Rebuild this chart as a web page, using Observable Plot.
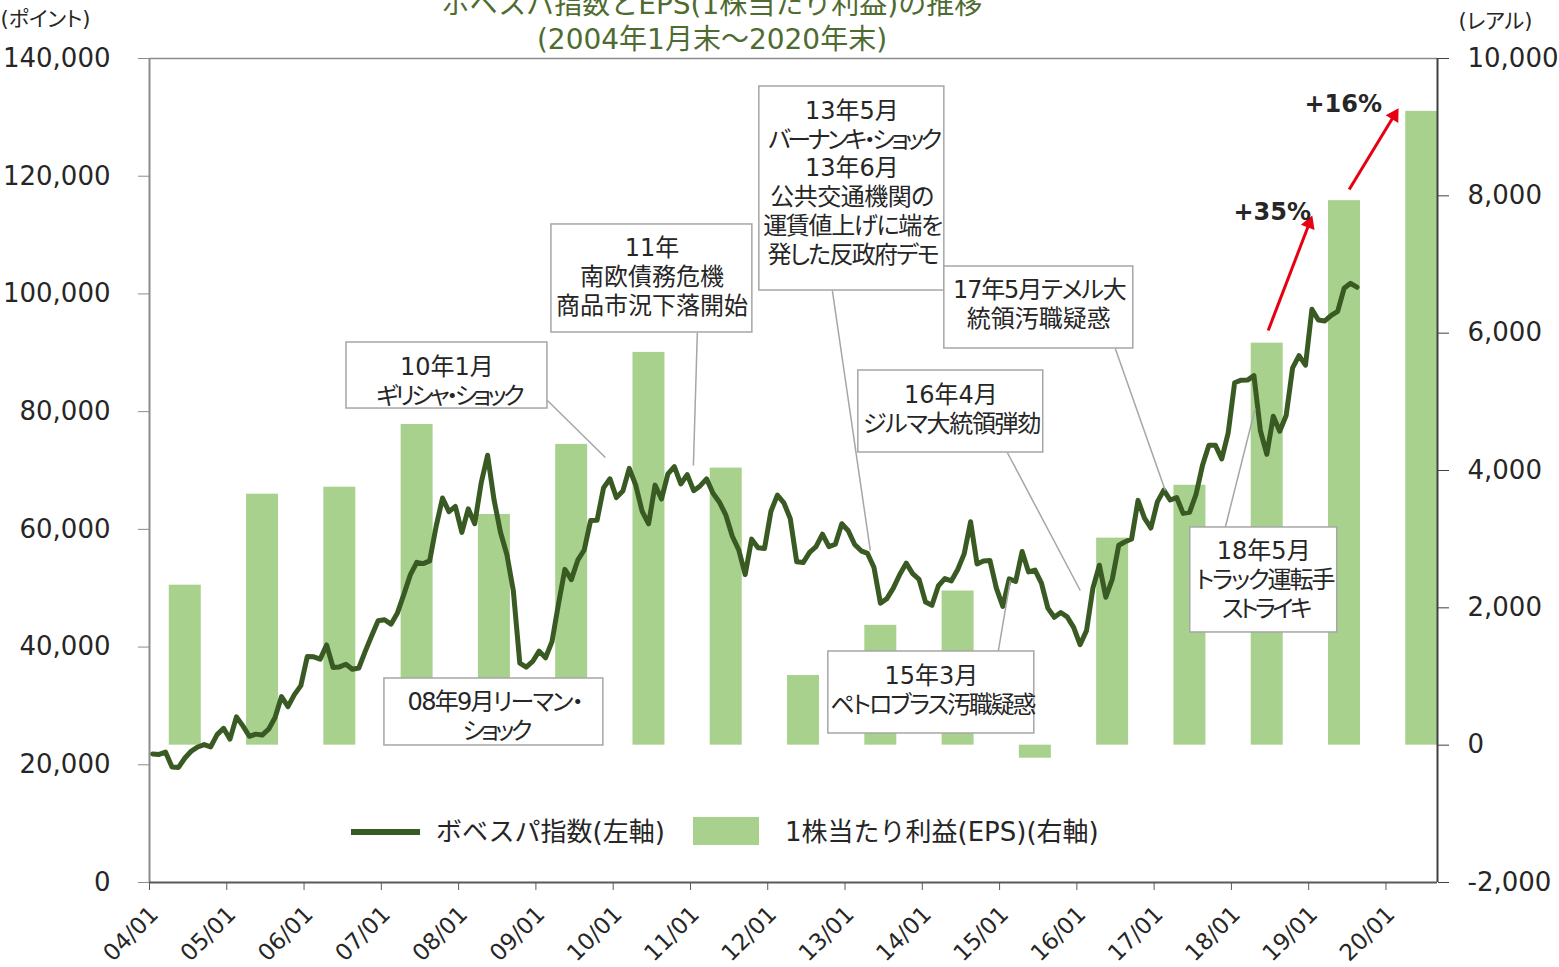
<!DOCTYPE html>
<html><head><meta charset="utf-8">
<script src="https://cdn.jsdelivr.net/npm/d3@7"></script>
<script src="https://cdn.jsdelivr.net/npm/@observablehq/plot@0.6"></script>
<style>
body{margin:0;background:#fff;}
#wrap{position:relative;width:1559px;height:967px;overflow:hidden;font-family:'DejaVu Sans','Noto Sans CJK JP',sans-serif;color:#262626;}
#wrap svg{display:block;position:absolute;left:0;top:0;}
#wrap svg text{font-feature-settings:"palt";}
.t{position:absolute;white-space:nowrap;line-height:1;}
.title{left:0;width:1424px;text-align:center;color:#4e6b30;font-size:28px;}
</style></head>
<body><div id="wrap"></div>
<script>
// ---- data ----
const epsYears = [2004,2005,2006,2007,2008,2009,2010,2011,2012,2013,2014,2015,2016,2017,2018,2019,2020];
const eps = [2330,3655,3757,4670,3360,4380,5720,4035,1015,1745,2245,-190,3015,3785,5855,7930,9230];
const bovespaStart = 2004; // Jan 2004, monthly
const bovespa = [
 21851,21755,22142,19607,19545,21149,22337,23025,23440,23052,25128,26196,
 24351,28139,26610,24843,25207,25051,26042,28043,31583,29878,31916,33455,
 38382,38346,37951,40365,36530,36631,37077,36232,36449,39262,41931,44473,
 44641,43892,45804,48956,52268,54392,54182,54637,60465,65317,63006,63886,
 59490,63489,60968,67868,72593,65017,59505,55680,49541,37257,36595,37550,
 39301,38183,40926,47290,53198,51465,54766,56489,61518,61546,67044,68588,
 65402,66504,70372,67530,63046,60936,67515,65145,69430,70673,67705,69305,
 66575,67383,68587,66133,64620,62404,58823,56495,52324,58338,56875,56754,
 63072,65812,64511,61820,54490,54355,56097,57061,59175,57068,57475,60952,
 59761,57424,56352,55910,53506,47457,48234,50008,52338,54256,52482,51507,
 47639,47094,50415,51627,51239,53168,55829,61288,54116,54629,54724,50007,
 46908,51583,51150,56229,52760,53081,50865,46626,45059,45868,45120,43350,
 40406,42794,50055,53911,48472,51527,57308,57901,58367,64925,61906,60227,
 64671,66662,64984,65403,62711,62900,65920,70835,74294,74308,71971,76402,
 84913,85353,85365,86115,76753,72762,79220,76677,79342,87423,89504,87887,
 97394,95584,95415,96353,97030,100967,101812,101135
];
const xTickYears = [2004,2005,2006,2007,2008,2009,2010,2011,2012,2013,2014,2015,2016,2017,2018,2019,2020];
const xTickLabels = ["04/01","05/01","06/01","07/01","08/01","09/01","10/01","11/01","12/01","13/01","14/01","15/01","16/01","17/01","18/01","19/01","20/01"];
const leftTicks = [0,20000,40000,60000,80000,100000,120000,140000];
const rightTicks = [-2000,0,2000,4000,6000,8000,10000];
const titleLines = ["ボベスパ指数とEPS(1株当たり利益)の推移","(2004年1月末～2020年末)"];
const leftUnit = "(ポイント)";
const rightUnit = "(レアル)";
const legendLine = "ボベスパ指数(左軸)";
const legendBar = "1株当たり利益(EPS)(右軸)";
// annotations: text, text anchor (year, points), box extent, leader line
const annText = [
 "10年1月\nギリシャ・ショック",
 "11年\n南欧債務危機\n商品市況下落開始",
 "13年5月\nバーナンキ・ショック\n13年6月\n公共交通機関の\n運賃値上げに端を\n発した反政府デモ",
 "17年5月テメル大\n統領汚職疑惑",
 "16年4月\nジルマ大統領弾劾",
 "08年9月リーマン・\nショック",
 "15年3月\nペトロブラス汚職疑惑",
 "18年5月\nトラック運転手\nストライキ"
];
const annAt = [[2007.849,85300],[2010.501,103130],[2013.088,119100],[2015.507,98370],[2014.369,80620],[2008.457,28370],[2014.117,32880],[2018.418,51570]];
const annBox = [
 [2006.549,2009.149,91750,80530],
 [2009.201,2011.801,111800,93450],
 [2011.891,2014.285,135240,100580],
 [2014.285,2016.730,104660,90730],
 [2013.172,2015.565,86990,73060],
 [2007.040,2009.873,34660,23280],
 [2012.784,2015.449,39250,25320],
 [2017.467,2019.369,60320,42480]
];
const leaders = [
 [2009.149,81900,2009.899,72210],
 [2011.089,93450,2011.038,70850],
 [2012.836,100580,2013.327,56410],
 [2016.497,90730,2017.144,66600],
 [2015.100,73060,2016.044,49610],
 [2014.983,39250,2015.138,51310],
 [2017.920,60320,2018.308,80530]
];
const growthText = ["+35%","+16%"];
const growthAt = [[2018.528,113840],[2019.447,132180]];
const growthArrow = [[2018.476,93790,2019.007,111970],[2019.524,117740,2020.106,130320]];

// ---- derived tables ----
const K = 140000/12000;            // right axis (reais) -> left axis (points)
const toLeft = v => (v + 2000) * K;
const xMax = 2004 + 200/12;
const pxPerYear = 1288/(xMax-2004), pxPerPt = 824/140000;
const lineData = bovespa.map((v,i) => ({x: bovespaStart + (i + 0.5)/12, y: v}));
const barData = epsYears.map((yr,i) => ({x1: yr + 0.256, x2: yr + 0.670, y1: toLeft(0), y2: toLeft(eps[i])}));
const ann = annText.map((t,i) => ({t, x: annAt[i][0], y: annAt[i][1], x1: annBox[i][0], x2: annBox[i][1], y1: annBox[i][2], y2: annBox[i][3]}));
const lead = leaders.map(d => ({x1:d[0],y1:d[1],x2:d[2],y2:d[3]}));
const grow = growthText.map((t,i) => {
  const [x1,y1,x2,y2] = growthArrow[i];
  const ang = Math.atan2((x2-x1)*pxPerYear, (y2-y1)*pxPerPt) * 180/Math.PI;
  return {t, x: growthAt[i][0], y: growthAt[i][1], x1, y1, x2, y2, ang};
});
const fam = "'DejaVu Sans','Noto Sans CJK JP',sans-serif";

const chart = Plot.plot({
  width: 1559, height: 967,
  marginLeft: 149, marginRight: 122, marginTop: 58, marginBottom: 85,
  x: {domain: [2004, xMax]},
  y: {domain: [0, 140000]},
  style: {fontFamily: fam, fontSize: "24px", color: "#262626", background: "transparent", overflow: "visible"},
  marks: [
    Plot.rect(barData, {x1: "x1", x2: "x2", y1: "y1", y2: "y2", fill: "#a9d18e"}),
    Plot.ruleY([140000], {stroke: "#8c8c8c", strokeWidth: 1.5}),
    Plot.ruleX([2004], {stroke: "#8c8c8c", strokeWidth: 2}),
    Plot.ruleX([xMax], {stroke: "#404040", strokeWidth: 2}),
    Plot.ruleY([0], {stroke: "#595959", strokeWidth: 2}),
    Plot.axisY(leftTicks, {anchor: "left", tickSize: 11, tickPadding: 28, stroke: "#8c8c8c", fill: "#262626", fontSize: 26, tickFormat: d3.format(","), label: null}),
    Plot.axisY(rightTicks.map(toLeft), {anchor: "right", tickSize: 11, tickPadding: 19, stroke: "#404040", fill: "#262626", fontSize: 26,
      tickFormat: v => d3.format(",")(Math.round(v/K - 2000)).replace("−","-"), label: null}),
    Plot.axisX(xTickYears, {anchor: "bottom", tickSize: 8, stroke: "#595959", tickFormat: () => "", label: null}),
    Plot.text(xTickYears, {x: d => d, text: (d,i) => xTickLabels[i], frameAnchor: "bottom", rotate: -45, textAnchor: "end", lineAnchor: "middle", dx: 5, dy: 28, fontSize: 23, fill: "#262626"}),
    Plot.line(lineData, {x: "x", y: "y", stroke: "#3a5a24", strokeWidth: 5, strokeLinejoin: "round", strokeLinecap: "round"}),
    Plot.link(lead, {x1: "x1", y1: "y1", x2: "x2", y2: "y2", stroke: "#a6a6a6", strokeWidth: 1.5}),
    Plot.rect(ann, {x1: "x1", x2: "x2", y1: "y1", y2: "y2", fill: "white", stroke: "#a6a6a6", strokeWidth: 1.5}),
    Plot.text(ann, {x: "x", y: "y", text: "t", fontSize: 24, lineHeight: 1.2, fill: "#262626", ariaLabel: "annotation"}),
    Plot.link(grow, {x1: "x1", y1: "y1", x2: "x2", y2: "y2", stroke: "#e60012", strokeWidth: 3}),
    Plot.dot(grow, {x: "x2", y: "y2", symbol: "triangle2", r: 7, fill: "#e60012", rotate: "ang"}),
    Plot.text(grow, {x: "x", y: "y", text: "t", fontSize: 24, fontWeight: "bold", fill: "#262626"}),
    Plot.text([leftUnit], {text: d => d, frameAnchor: "top-left", dx: -149, dy: -47, textAnchor: "start", fontSize: 21, fill: "#262626"}),
    Plot.text([rightUnit], {text: d => d, frameAnchor: "top-right", dx: 21, dy: -45, textAnchor: "start", fontSize: 21, fill: "#262626"})
  ]
});
const wrap = document.getElementById("wrap");
wrap.appendChild(chart);

// narrower kana (the reference font has proportional, condensed kana):
// tighten letter spacing on annotation lines in proportion to their kana count
chart.querySelectorAll("tspan").forEach(el => {
  const s = el.textContent;
  const n = (s.match(/[\u3040-\u30ff]/g) || []).length;
  if (!n) return;
  const ls = -(3.5 * n) / s.length;
  el.style.letterSpacing = ls.toFixed(2) + "px";
  el.setAttribute("letter-spacing", ls.toFixed(2));
  el.setAttribute("dx", (-ls / 2).toFixed(2));
});

function addDiv(cls, text, css){ const d = document.createElement("div"); d.className = "t " + cls; d.textContent = text; Object.assign(d.style, css); wrap.appendChild(d); return d; }
addDiv("title", titleLines[0], {top: "-9px"});
addDiv("title", titleLines[1], {top: "26px"});
// legend
const sw1 = document.createElement("div"); Object.assign(sw1.style, {position:"absolute", left:"351px", top:"829px", width:"69px", height:"6px", background:"#3a5a24"}); wrap.appendChild(sw1);
addDiv("", legendLine, {left: "436px", top: "819px", fontSize: "26px"});
const sw2 = document.createElement("div"); Object.assign(sw2.style, {position:"absolute", left:"693px", top:"817px", width:"66px", height:"28px", background:"#a9d18e"}); wrap.appendChild(sw2);
addDiv("", legendBar, {left: "785px", top: "819px", fontSize: "26px"});
</script>
</body></html>
